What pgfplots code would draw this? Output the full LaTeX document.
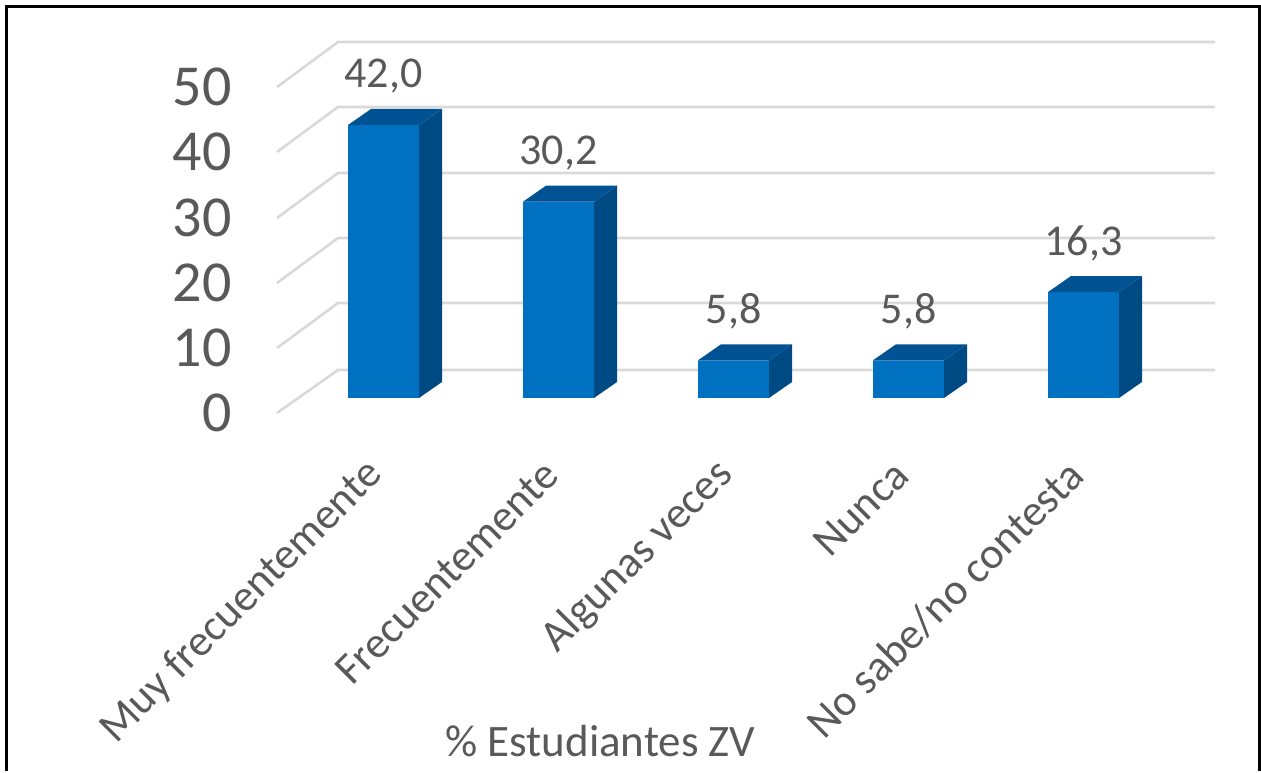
\documentclass[border=0pt]{standalone}
\usepackage{pgfplots}
\usepackage{pgfplotstable}
\pgfplotsset{compat=1.18}
\usepackage{fontspec}
\setmainfont{Carlito}
\definecolor{barfront}{RGB}{0,112,192}
\definecolor{barside}{RGB}{0,74,132}
\definecolor{bartop}{RGB}{0,82,146}
\definecolor{txt}{RGB}{89,89,89}
\definecolor{gridc}{RGB}{217,217,217}
\pgfdeclareplotmark{emptythreed}{}
\pgfplotstableread{
x y
0 42.0
1 30.2
2 5.8
3 5.8
4 16.3
}\datatable
\begin{document}
\begin{tikzpicture}
\begin{axis}[
  scale only axis, width=630.5pt, height=385.5pt,
  xmin=-2.19143, xmax=5.01429, ymin=-57.3846, ymax=61.2308,
  clip=false,
  axis line style={draw=none}, tick style={draw=none}, major tick length=0pt,
  xtick={0,1,2,3,4},
  xticklabels={Muy frecuentemente, Frecuentemente, Algunas veces, Nunca, No sabe/no contesta},
  ytick={-2.308,7.692,17.69,27.69,37.846,47.846},
  yticklabels={0,10,20,30,40,50},
  xticklabel style={yshift=151.5pt, xshift=-3.5pt, rotate=45, anchor=east, inner sep=0pt, font=\fontsize{22}{26}\selectfont, text=txt},
  yticklabel style={xshift=116pt, anchor=east, inner sep=0pt, font=\fontsize{29}{34}\selectfont, text=txt},
  /pgf/number format/assume math mode=true,
]
% picture extent and frame
\path (axis cs:-2.19143,-57.3846) rectangle (axis cs:5.01429,61.2308);
\draw[black, line width=1.5pt] (axis cs:-2.1571,-57.3846) -- (axis cs:-2.1571,60.3) -- (axis cs:5.0029,60.3) -- (axis cs:5.0029,-57.3846);
% perspective gridlines
\draw[gridc, line width=1.3pt] (axis cs:-0.6086,-2.308) -- (axis cs:-0.26,4.308) -- (axis cs:4.7514,4.308);
\draw[gridc, line width=1.3pt] (axis cs:-0.6086,7.692) -- (axis cs:-0.26,14.615) -- (axis cs:4.7514,14.615);
\draw[gridc, line width=1.3pt] (axis cs:-0.6086,17.69) -- (axis cs:-0.26,24.615) -- (axis cs:4.7514,24.615);
\draw[gridc, line width=1.3pt] (axis cs:-0.6086,27.69) -- (axis cs:-0.26,34.615) -- (axis cs:4.7514,34.615);
\draw[gridc, line width=1.3pt] (axis cs:-0.6086,37.846) -- (axis cs:-0.26,44.77) -- (axis cs:4.7514,44.77);
\draw[gridc, line width=1.3pt] (axis cs:-0.6086,47.846) -- (axis cs:-0.26,54.77) -- (axis cs:4.7514,54.77);
% front faces
\addplot[ybar, bar width=35.5pt, bar shift=0pt, fill=barfront, draw=none,
  nodes near coords={\pgfmathprintnumber[fixed,fixed zerofill,precision=1,use comma]{\pgfplotspointmeta}},
  every node near coord/.append style={anchor=base, yshift=18.5pt, inner sep=0pt, font=\fontsize{22}{26}\selectfont, text=txt}]
  table[x=x, y=y] {\datatable};
% side and top faces
\addplot[scatter, only marks, mark=emptythreed,
  visualization depends on={rawy \as \barv},
  scatter/@pre marker code/.code={%
    \pgfmathsetlengthmacro\hf{-\barv*3.25pt}%
    \pgfmathsetlengthmacro\hb{8pt-\barv*3.25pt}%
    \pgfsetfillcolor{barside}%
    \pgfpathmoveto{\pgfpoint{17.75pt}{0pt}}%
    \pgfpathlineto{\pgfpoint{29.25pt}{8pt}}%
    \pgfpathlineto{\pgfpoint{29.25pt}{\hb}}%
    \pgfpathlineto{\pgfpoint{17.75pt}{\hf}}%
    \pgfpathclose\pgfusepath{fill}%
    \pgfsetfillcolor{bartop}%
    \pgfpathmoveto{\pgfpoint{-17.75pt}{0pt}}%
    \pgfpathlineto{\pgfpoint{17.75pt}{0pt}}%
    \pgfpathlineto{\pgfpoint{29.25pt}{8pt}}%
    \pgfpathlineto{\pgfpoint{-6.25pt}{8pt}}%
    \pgfpathclose\pgfusepath{fill}%
  },
  scatter/@post marker code/.code={}]
  table[x=x, y=y] {\datatable};
% axis title
\node[anchor=base, inner sep=0pt, font=\fontsize{22.5}{27}\selectfont, text=txt] at (axis cs:1.24,-55.23) {\% Estudiantes ZV};
\end{axis}
\end{tikzpicture}
\end{document}
